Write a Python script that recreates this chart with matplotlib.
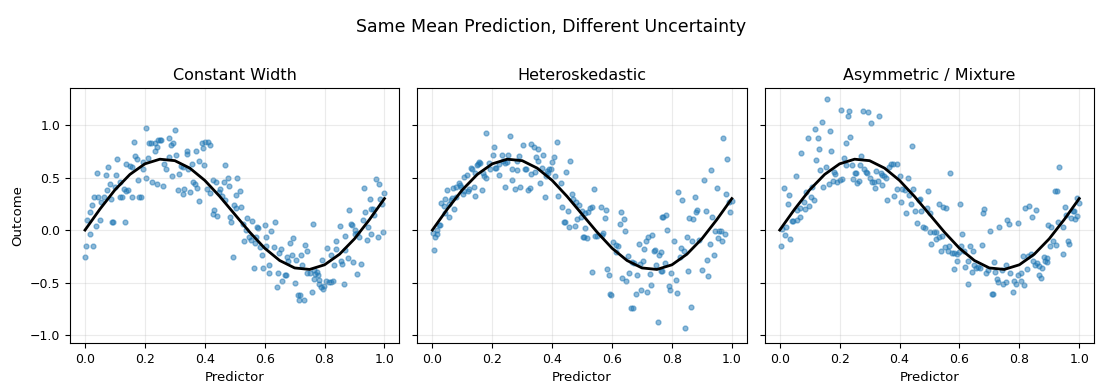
import numpy as np
import matplotlib
matplotlib.use("Agg")
import matplotlib.pyplot as plt

# mean curve (same in all three panels)
curve_x = [0.0, 0.05, 0.10, 0.15, 0.20, 0.25, 0.30, 0.35, 0.40, 0.45, 0.50,
           0.55, 0.60, 0.65, 0.70, 0.75, 0.80, 0.85, 0.90, 0.95, 1.0]
curve_y = [0.0, 0.200, 0.383, 0.530, 0.631, 0.675, 0.661, 0.590, 0.473, 0.320, 0.150,
           -0.020, -0.173, -0.290, -0.361, -0.375, -0.331, -0.230, -0.083, 0.100, 0.300]

titles = ["Constant Width", "Heteroskedastic", "Asymmetric / Mixture"]

constant_pts = [
    (0.205, 0.968), (0.165, 0.835), (0.168, 0.71), (0.175, 0.673), (0.194, 0.65), (0.212, 0.69),
    (0.215, 0.825), (0.22, 0.83), (0.233, 0.83), (0.244, 0.857), (0.24, 0.79), (0.233, 0.75),
    (0.202, 0.50), (0.225, 0.46), (0.24, 0.435), (0.178, 0.476), (0.192, 0.578), (0.15, 0.61),
    (0.156, 0.60), (0.138, 0.625), (0.108, 0.673), (0.078, 0.597), (0.069, 0.524), (0.041, 0.54),
    (0.104, 0.52), (0.118, 0.457), (0.129, 0.387), (0.144, 0.38), (0.138, 0.375), (0.082, 0.435),
    (0.075, 0.378), (0.101, 0.413), (0.116, 0.314), (0.125, 0.314), (0.158, 0.314), (0.18, 0.314),
    (0.186, 0.314), (0.03, 0.314), (0.043, 0.314), (0.064, 0.314), (0.055, 0.267), (0.088, 0.30),
    (0.023, 0.238), (0.017, 0.168), (0.008, 0.10), (0.051, 0.10), (0.038, 0.035), (0.016, -0.038),
    (0.004, -0.152), (0.028, -0.152), (0.001, -0.257), (0.09, 0.073), (0.095, 0.08), (0.132, 0.073),
    (0.250, 0.857), (0.255, 0.857), (0.282, 0.873), (0.288, 0.81), (0.295, 0.825), (0.302, 0.949),
    (0.279, 0.698), (0.265, 0.629), (0.269, 0.578), (0.305, 0.714), (0.292, 0.511), (0.314, 0.53),
    (0.262, 0.416), (0.319, 0.606), (0.327, 0.60), (0.34, 0.752), (0.342, 0.72), (0.369, 0.752),
    (0.357, 0.625), (0.345, 0.581), (0.381, 0.657), (0.396, 0.616), (0.389, 0.825), (0.401, 0.841),
    (0.412, 0.835), (0.416, 0.806), (0.393, 0.778), (0.361, 0.454), (0.367, 0.435), (0.374, 0.40),
    (0.312, 0.381), (0.327, 0.346), (0.332, 0.387), (0.352, 0.362), (0.379, 0.276), (0.407, 0.39),
    (0.418, 0.349), (0.426, 0.476), (0.438, 0.457), (0.466, 0.616), (0.463, 0.457), (0.477, 0.492),
    (0.48, 0.419), (0.451, 0.394), (0.446, 0.365), (0.457, 0.327), (0.468, 0.286), (0.507, 0.492),
    (0.503, 0.33), (0.432, 0.19), (0.429, 0.149), (0.442, 0.133), (0.483, 0.121), (0.489, 0.073),
    (0.499, 0.238), (0.505, 0.213), (0.493, -0.257),
    (0.516, 0.371), (0.52, 0.222), (0.54, 0.111), (0.556, 0.086), (0.527, 0.057), (0.536, 0.0),
    (0.575, 0.025), (0.579, 0.019), (0.60, 0.048), (0.633, 0.073), (0.62, -0.01), (0.603, -0.067),
    (0.57, -0.067), (0.547, -0.067), (0.553, -0.095), (0.531, -0.108), (0.566, -0.127), (0.584, -0.159),
    (0.606, -0.152), (0.63, -0.165), (0.59, -0.241), (0.563, -0.362), (0.593, -0.362), (0.613, -0.333),
    (0.616, -0.413), (0.644, -0.413), (0.64, -0.546), (0.657, -0.489), (0.667, -0.425), (0.67, -0.432),
    (0.654, -0.184), (0.649, -0.222), (0.676, -0.26), (0.679, -0.298), (0.69, -0.241), (0.683, -0.127),
    (0.694, -0.076), (0.703, -0.289), (0.72, -0.241), (0.726, -0.337), (0.70, -0.505), (0.733, -0.146),
    (0.74, -0.203), (0.71, -0.619), (0.718, -0.619), (0.715, -0.67), (0.73, -0.67), (0.742, -0.413),
    (0.75, -0.413), (0.757, -0.59), (0.761, 0.054), (0.763, -0.381),
    (0.767, -0.416), (0.774, -0.403), (0.777, -0.432), (0.766, -0.463), (0.782, -0.476), (0.78, -0.517),
    (0.788, -0.54), (0.794, -0.565), (0.799, -0.53), (0.805, -0.483), (0.814, -0.492), (0.821, -0.492),
    (0.827, -0.486), (0.79, -0.286), (0.807, -0.175), (0.82, -0.241), (0.83, -0.333), (0.838, -0.184),
    (0.837, -0.105), (0.852, 0.038), (0.854, -0.295), (0.857, -0.324), (0.864, -0.514), (0.869, -0.057),
    (0.868, -0.19), (0.878, -0.27), (0.894, -0.305), (0.881, 0.19), (0.887, 0.054), (0.89, 0.048),
    (0.9, -0.038), (0.903, 0.0), (0.907, -0.025), (0.908, -0.419), (0.916, -0.07), (0.92, -0.324),
    (0.927, 0.095), (0.931, 0.397), (0.936, 0.175), (0.941, -0.095), (0.944, 0.025), (0.95, 0.292),
    (0.954, -0.038), (0.956, 0.2), (0.963, 0.2), (0.964, 0.146), (0.971, 0.483), (0.981, 0.435),
    (0.978, -0.07), (0.994, -0.022), (0.985, 0.292), (0.992, 0.244), (1.0, 0.349),
]

hetero_pts = [
    (0.18, 0.921), (0.205, 0.787), (0.202, 0.711), (0.232, 0.711), (0.251, 0.714), (0.249, 0.651),
    (0.244, 0.641), (0.236, 0.657), (0.221, 0.625), (0.214, 0.594), (0.194, 0.584), (0.208, 0.594),
    (0.188, 0.635), (0.222, 0.521), (0.244, 0.406), (0.155, 0.651), (0.158, 0.638), (0.149, 0.616),
    (0.153, 0.625), (0.129, 0.594), (0.133, 0.584), (0.144, 0.54), (0.17, 0.54), (0.18, 0.498),
    (0.173, 0.514), (0.115, 0.521), (0.107, 0.502), (0.138, 0.406), (0.121, 0.387), (0.119, 0.375),
    (0.107, 0.371), (0.101, 0.343), (0.165, 0.381), (0.142, 0.321), (0.088, 0.444), (0.091, 0.429),
    (0.097, 0.413), (0.078, 0.406), (0.068, 0.397), (0.05, 0.381), (0.066, 0.305), (0.061, 0.286),
    (0.08, 0.314), (0.043, 0.292), (0.03, 0.254), (0.038, 0.229), (0.055, 0.244), (0.071, 0.2),
    (0.041, 0.159), (0.057, 0.121), (0.027, 0.051), (0.021, 0.044), (0.016, 0.0), (0.017, -0.038),
    (0.01, -0.067), (0.001, -0.032), (0.004, -0.194),
    (0.259, 0.895), (0.265, 0.578), (0.267, 0.476), (0.281, 0.657), (0.288, 0.705), (0.284, 0.571),
    (0.276, 0.39), (0.292, 0.413), (0.301, 0.81), (0.308, 0.584), (0.312, 0.578), (0.318, 0.381),
    (0.325, 0.397), (0.33, 0.819), (0.338, 0.794), (0.329, 0.533), (0.345, 0.692), (0.352, 0.654),
    (0.354, 0.768), (0.343, 0.556), (0.359, 0.444), (0.368, 0.711), (0.366, 0.594), (0.376, 0.311),
    (0.379, 0.514), (0.382, 0.562), (0.39, 0.578), (0.396, 0.581), (0.386, 0.543), (0.401, 0.644),
    (0.405, 0.70), (0.408, 0.514), (0.416, 0.835), (0.419, 0.324), (0.429, 0.444), (0.432, 0.216),
    (0.438, 0.076), (0.444, 0.076), (0.446, 0.552), (0.452, 0.178), (0.459, 0.654), (0.456, 0.029),
    (0.466, 0.340), (0.47, 0.295), (0.476, 0.038), (0.479, 0.27), (0.484, 0.102), (0.491, 0.235),
    (0.495, 0.121), (0.501, 0.181), (0.504, -0.07),
    (0.54, 0.387), (0.51, 0.159), (0.519, 0.168), (0.527, 0.206), (0.532, 0.216), (0.509, 0.022),
    (0.505, -0.063), (0.516, -0.079), (0.543, -0.054), (0.551, -0.054), (0.567, -0.051), (0.57, -0.025),
    (0.563, 0.216), (0.579, 0.19), (0.575, 0.111), (0.533, -0.40), (0.583, -0.375), (0.59, -0.432),
    (0.592, -0.613), (0.598, -0.619), (0.603, -0.117), (0.612, -0.14), (0.62, -0.149), (0.614, -0.213),
    (0.63, 0.168), (0.627, 0.054), (0.64, 0.105), (0.643, -0.013), (0.633, -0.46), (0.648, -0.489),
    (0.657, -0.413), (0.653, -0.248), (0.662, -0.746), (0.67, -0.746), (0.667, -0.305), (0.673, -0.317),
    (0.683, -0.429), (0.681, -0.61), (0.69, -0.133), (0.692, -0.324), (0.703, -0.298), (0.697, -0.575),
    (0.706, -0.184), (0.715, -0.108), (0.721, -0.063), (0.733, -0.051), (0.718, -0.59), (0.729, -0.524),
    (0.728, -0.422), (0.74, -0.203), (0.742, -0.19), (0.748, -0.337), (0.757, -0.235), (0.762, -0.394),
    (0.755, -0.876), (0.766, 0.121),
    (0.763, -0.213), (0.767, -0.394), (0.777, -0.317), (0.769, 0.121), (0.78, 0.14), (0.785, 0.0),
    (0.789, -0.533), (0.794, -0.575), (0.797, -0.413), (0.807, -0.105), (0.814, -0.479), (0.818, -0.60),
    (0.82, 0.362), (0.834, 0.286), (0.827, -0.26), (0.829, -0.175), (0.84, -0.203), (0.844, -0.937),
    (0.849, -0.07), (0.855, -0.39), (0.864, -0.737), (0.867, -0.108), (0.856, 0.114), (0.869, 0.102),
    (0.877, 0.311), (0.881, 0.175), (0.885, 0.187), (0.892, -0.095), (0.9, -0.384), (0.907, 0.473),
    (0.914, 0.178), (0.916, -0.289), (0.921, -0.438), (0.927, -0.137), (0.931, 0.57), (0.934, 0.121),
    (0.941, -0.241), (0.945, -0.013), (0.951, 0.397), (0.954, -0.076), (0.957, -0.006), (0.964, -0.006),
    (0.967, -0.108), (0.971, 0.873), (0.978, -0.041), (0.984, 0.673), (0.981, 0.34), (0.994, 0.168),
    (1.0, 0.273), (0.992, 0.267),
]

mixture_pts = [
    (0.158, 1.244), (0.205, 1.143), (0.231, 1.13), (0.228, 1.086), (0.142, 1.03), (0.118, 0.959),
    (0.095, 0.873), (0.129, 0.879), (0.168, 0.946), (0.172, 0.756), (0.131, 0.768), (0.071, 0.73),
    (0.122, 0.663), (0.222, 0.825), (0.235, 0.883), (0.214, 0.683), (0.22, 0.622), (0.241, 0.616),
    (0.251, 0.546), (0.244, 0.483), (0.155, 0.603), (0.136, 0.568), (0.181, 0.552), (0.185, 0.533),
    (0.055, 0.514), (0.014, 0.397), (0.03, 0.33), (0.027, 0.244), (0.145, 0.406), (0.164, 0.435),
    (0.177, 0.463), (0.192, 0.454), (0.202, 0.476), (0.208, 0.483), (0.108, 0.406), (0.088, 0.359),
    (0.105, 0.317), (0.115, 0.283), (0.08, 0.27), (0.099, 0.225), (0.085, 0.197), (0.066, 0.213),
    (0.059, 0.19), (0.068, 0.121), (0.057, 0.095), (0.043, 0.089), (0.04, 0.086), (0.021, 0.029),
    (0.008, 0.013), (0.018, -0.051), (0.034, -0.089), (0.003, -0.152),
    (0.279, 1.133), (0.295, 1.121), (0.332, 1.086), (0.305, 1.016), (0.441, 0.797), (0.271, 0.708),
    (0.256, 0.546), (0.259, 0.444), (0.265, 0.467), (0.267, 0.616), (0.281, 0.578), (0.288, 0.552),
    (0.292, 0.546), (0.301, 0.492), (0.308, 0.46), (0.314, 0.457), (0.319, 0.397), (0.329, 0.467),
    (0.323, 0.562), (0.337, 0.546), (0.342, 0.527), (0.349, 0.517), (0.342, 0.425), (0.354, 0.492),
    (0.366, 0.597), (0.373, 0.629), (0.377, 0.629), (0.39, 0.629), (0.359, 0.283), (0.382, 0.324),
    (0.393, 0.39), (0.403, 0.511), (0.405, 0.267), (0.409, 0.39), (0.418, 0.381), (0.421, 0.159),
    (0.429, 0.492), (0.432, 0.337), (0.439, 0.248), (0.446, 0.39), (0.453, 0.178), (0.46, 0.07),
    (0.466, 0.286), (0.47, 0.298), (0.471, 0.184), (0.479, 0.032), (0.484, 0.016), (0.496, 0.371),
    (0.493, 0.206), (0.502, 0.159), (0.502, -0.022), (0.506, -0.133),
    (0.57, 0.54), (0.531, 0.244), (0.545, 0.216), (0.555, 0.206), (0.603, 0.244), (0.514, -0.022),
    (0.521, -0.022), (0.521, -0.089), (0.533, -0.063), (0.543, -0.057), (0.54, -0.203), (0.553, -0.165),
    (0.561, -0.197), (0.566, -0.152), (0.576, -0.222), (0.583, -0.216), (0.592, -0.229), (0.598, -0.21),
    (0.583, -0.375), (0.592, -0.292), (0.606, -0.149), (0.61, -0.038), (0.616, -0.203), (0.62, -0.356),
    (0.627, -0.514), (0.63, -0.295), (0.634, -0.152), (0.641, -0.403), (0.644, -0.197), (0.649, -0.337),
    (0.656, -0.362), (0.661, -0.349), (0.668, -0.365), (0.677, -0.146), (0.68, 0.159), (0.683, 0.2),
    (0.69, -0.413), (0.694, -0.381), (0.703, -0.01), (0.708, -0.61), (0.711, -0.61), (0.717, -0.302),
    (0.72, -0.397), (0.726, -0.463), (0.732, 0.029), (0.73, -0.492), (0.742, -0.381), (0.747, -0.517),
    (0.754, -0.333), (0.757, -0.498), (0.759, 0.095), (0.765, 0.057),
    (0.794, 0.063), (0.769, -0.413), (0.782, -0.483), (0.79, -0.514), (0.78, -0.59), (0.796, -0.429),
    (0.805, -0.406), (0.807, -0.489), (0.816, -0.524), (0.811, -0.248), (0.827, -0.375), (0.83, -0.244),
    (0.838, -0.229), (0.852, -0.333), (0.858, -0.317), (0.847, -0.295), (0.865, -0.429), (0.872, -0.46),
    (0.865, -0.343), (0.877, -0.365), (0.82, 0.206), (0.834, 0.229), (0.844, 0.121), (0.857, 0.19),
    (0.881, -0.26), (0.887, -0.295), (0.894, -0.27), (0.892, -0.302), (0.897, 0.048), (0.905, 0.032),
    (0.903, -0.152), (0.914, -0.102), (0.922, -0.146), (0.918, 0.368), (0.927, 0.368), (0.934, 0.597),
    (0.93, 0.073), (0.945, 0.032), (0.947, -0.229), (0.954, 0.222), (0.957, 0.14), (0.964, -0.102),
    (0.967, -0.137), (0.972, 0.111), (0.979, 0.184), (0.983, 0.184), (0.986, 0.102), (0.994, 0.133),
    (0.991, 0.302), (0.999, 0.254),
]

panels = [constant_pts, hetero_pts, mixture_pts]

fig, axes = plt.subplots(1, 3, figsize=(11.03, 3.9), dpi=100, sharey=True)
fig.subplots_adjust(left=0.0635, right=0.992, top=0.774, bottom=0.1205, wspace=0.0545)

for ax, pts, title in zip(axes, panels, titles):
    px, py = np.array(pts).T
    ax.scatter(px, py, s=12, color="C0", alpha=0.5)
    ax.plot(curve_x, curve_y, color="black", lw=2)
    ax.set_title(title, fontsize=11.5)
    ax.set_xlabel("Predictor", fontsize=9.5)
    ax.set_xlim(-0.05, 1.05)
    ax.set_xticks([0.0, 0.2, 0.4, 0.6, 0.8, 1.0])
    ax.tick_params(labelsize=9)
    ax.grid(True, alpha=0.25)

axes[0].set_ylim(-1.076, 1.352)
axes[0].set_yticks([-1.0, -0.5, 0.0, 0.5, 1.0])
axes[0].set_ylabel("Outcome", fontsize=9.5)

fig.suptitle("Same Mean Prediction, Different Uncertainty", fontsize=12.5, y=0.955)

fig.savefig("out.png", dpi=100)
